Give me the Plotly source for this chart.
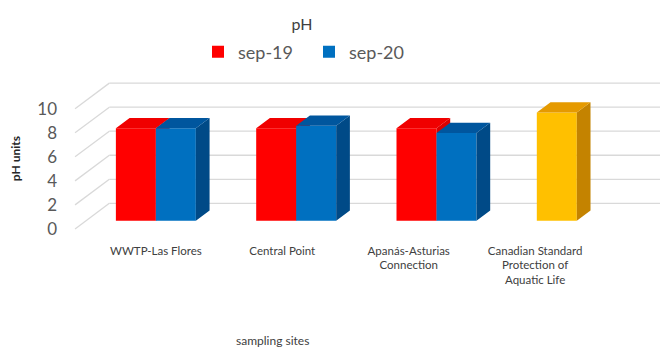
import plotly.graph_objects as go

# ---- data -------------------------------------------------------------
sites = [
    "WWTP-Las Flores",
    "Central Point",
    "Apanás-Asturias<br>Connection",
    "Canadian Standard<br>Protection of<br>Aquatic Life",
]
sep_19 = [7.7, 7.7, 7.7]          # first three sampling sites
sep_20 = [7.7, 7.9, 7.3]
standard_ph = [9.0]               # Canadian guideline (upper limit)
y_ticks = [0, 2, 4, 6, 8, 10]

# ---- pseudo-3D geometry (axis units) ----------------------------------
BAR_W = 0.285                     # width of one bar in category units
BAR_DX, BAR_DY = 0.0978, 0.852    # receding offset of a bar's depth
WALL_DX, WALL_DY = 0.2445, 2.131  # receding offset of the whole floor depth
BAR_Z = 0.32                      # share of floor depth in front of the bars
FLOOR_LEFT = -0.576               # front-left corner of the floor
LABEL_SPREAD = 0.901              # category label spacing on the front edge
X_RANGE = [-0.669, 3.593]
Y_RANGE = [-1.27, 12.5]

FONT = "Lato"
GREY = "#595959"

palette = {
    "sep-19": ("#FF0000", "#F00000", "#DD0000"),
    "sep-20": ("#0070C0", "#00569E", "#004A87"),
    "std": ("#FFC000", "#E59A00", "#C48300"),
}


def box_faces(xs, vals, offset):
    """Top and right-side polygons of bars drawn with an oblique projection."""
    tx, ty, sx, sy = [], [], [], []
    for c, v in zip(xs, vals):
        xl = c + offset
        xr = xl + BAR_W
        tx += [xl, xr, xr + BAR_DX, xl + BAR_DX, xl, None]
        ty += [v, v, v + BAR_DY, v + BAR_DY, v, None]
        sx += [xr, xr + BAR_DX, xr + BAR_DX, xr, xr, None]
        sy += [v, v + BAR_DY, BAR_DY, 0, v, None]
    return (tx, ty), (sx, sy)


def add_series(fig, name, xs, vals, offset, colors, yaxis, legend):
    front, top, side = colors
    fig.add_trace(go.Bar(
        x=xs, y=vals, base=0, offset=offset, width=BAR_W, name=name,
        marker=dict(color=front, line=dict(width=0)), yaxis=yaxis,
        showlegend=legend, hoverinfo="skip"))
    (tx, ty), (sx, sy) = box_faces(xs, vals, offset)
    for px, py, col in ((sx, sy, side), (tx, ty, top)):
        fig.add_trace(go.Scatter(
            x=px, y=py, mode="none", fill="toself", fillcolor=col,
            yaxis=yaxis, showlegend=False, hoverinfo="skip"))


fig = go.Figure()
idx_obs = list(range(len(sep_19)))
idx_std = [len(sites) - 1]

add_series(fig, "sep-19", idx_obs, sep_19, -BAR_W, palette["sep-19"], "y", True)
add_series(fig, "Canadian Standard", idx_std, standard_ph, -BAR_W,
           palette["std"], "y", False)
# second series sits on an overlaid axis so it paints over the first one
add_series(fig, "sep-20", idx_obs, sep_20, 0, palette["sep-20"], "y2", True)

# gridlines: slanted on the left wall, horizontal on the back wall
shapes = []
for v in y_ticks:
    y_front = v - BAR_Z * WALL_DY
    y_back = v + (1 - BAR_Z) * WALL_DY
    x_back = FLOOR_LEFT + WALL_DX
    line = dict(color="#D9D9D9", width=1.3)
    shapes.append(dict(type="line", xref="x", yref="y", layer="below",
                       x0=FLOOR_LEFT, y0=y_front, x1=x_back, y1=y_back, line=line))
    shapes.append(dict(type="line", xref="x", yref="y", layer="below",
                       x0=x_back, y0=y_back, x1=X_RANGE[1], y1=y_back, line=line))

fig.update_layout(
    width=660, height=349,
    margin=dict(l=62, r=0, t=68, b=113),
    paper_bgcolor="white", plot_bgcolor="white",
    barmode="overlay",
    shapes=shapes,
    font=dict(family=FONT, color=GREY),
    title=dict(text="pH", x=302 / 660, xanchor="center", y=1 - 24 / 349,
               yanchor="middle", font=dict(family=FONT, size=16, color="#404040")),
    legend=dict(orientation="h", xref="container", yref="container",
                x=0.300, xanchor="left", y=1 - 52 / 349, yanchor="middle",
                font=dict(family=FONT, size=18, color=GREY),
                entrywidth=66, entrywidthmode="pixels", bgcolor="rgba(0,0,0,0)"),
    xaxis=dict(range=X_RANGE, showgrid=False, zeroline=False, showline=False,
               tickvals=[i * LABEL_SPREAD for i in range(len(sites))],
               ticktext=sites, ticks="", ticklabelstandoff=6,
               tickfont=dict(family=FONT, size=11.5, color="#404040")),
    yaxis=dict(range=Y_RANGE, showgrid=False, zeroline=False, showline=False,
               tickvals=[v - BAR_Z * WALL_DY for v in y_ticks],
               ticktext=[str(v) for v in y_ticks], ticks="", ticklabelstandoff=4,
               tickfont=dict(family=FONT, size=17, color=GREY)),
    yaxis2=dict(range=Y_RANGE, overlaying="y", visible=False),
    annotations=[
        dict(text="<b>pH units</b>", xref="paper", yref="paper",
             x=(15 - 62) / 598, y=(236 - 158) / 168, textangle=-90,
             xanchor="center", yanchor="middle",
             showarrow=False, font=dict(family=FONT, size=12, color="#262626")),
        dict(text="sampling sites", xref="paper", yref="paper",
             x=(272 - 62) / 598, y=(236 - 342.5) / 168,
             xanchor="center", yanchor="middle", showarrow=False,
             font=dict(family=FONT, size=12, color="#404040")),
    ],
)

fig.write_html("out.html")
